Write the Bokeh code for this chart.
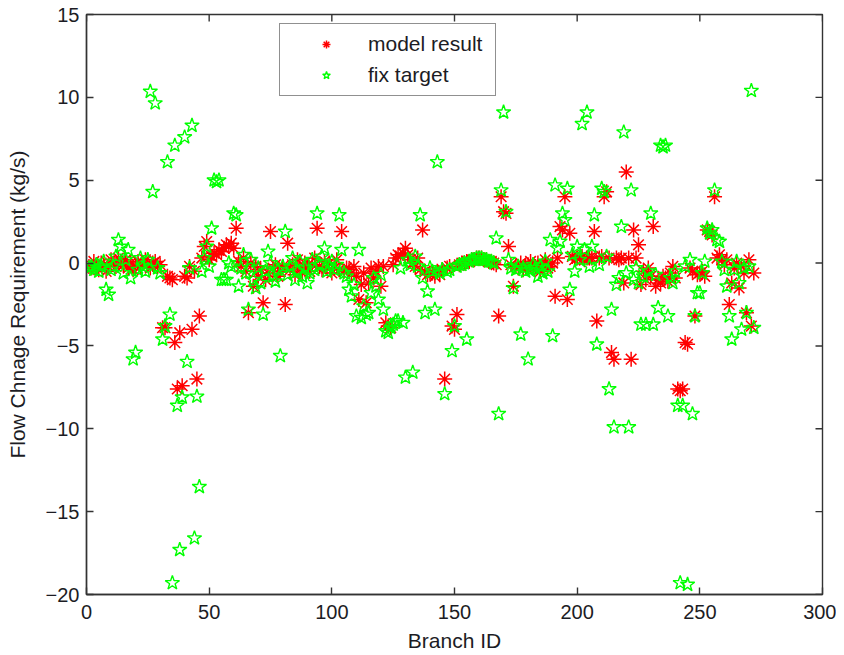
from bokeh.plotting import figure
from bokeh.models import Range1d, FixedTicker, Legend, LegendItem
from bokeh.embed import file_html
from bokeh.resources import INLINE

# Branch-wise flow change requirement (kg/s)
model_result = [
    -0.2, -0.3, 0.1, -0.2, -0.4, 0.0, -0.1, -0.5, -0.2, 0.2,
    0.0, -0.2, 0.3, 0.1, -0.1, 0.2, -0.3, 0.0, -0.4, -0.2,
    0.1, -0.2, 0.0, 0.2, -0.1, -0.3, 0.0, 0.1, -0.2, -0.1,
    -3.9, -3.9, -0.8, -0.9, -1.0, -4.8, -7.6, -4.2, -7.4, -0.8,
    -0.9, -0.2, -4.0, -0.5, -7.0, -3.2, 0.3, 1.0, 1.3, 0.2,
    0.4, 0.6, 0.5, 0.8, 0.7, 0.9, 1.1, 1.0, 1.2, 0.9,
    2.1, 0.1, -0.2, 0.3, -0.5, -3.0, 0.0, -1.4, -0.2, -0.8,
    -0.4, -2.4, -1.0, -0.6, 1.9, -0.3, -0.1, -0.8, -0.5, -0.2,
    -2.5, 1.2, -0.4, -0.1, -0.7, 0.2, -0.3, -0.6, 0.0, -0.2,
    -0.5, -0.1, 0.3, 2.1, -0.2, -0.4, 0.1, -0.3, 0.0, -0.6,
    -0.3, 0.2, -0.4, 1.9, -0.5, -0.3, -0.4, -0.6, -0.2, -0.8,
    -2.2, -1.3, -0.6, -2.4, -1.2, -0.3, -0.9, -0.5, -0.2, -1.4,
    -0.2, -3.6, -3.8, -3.9, -0.1, 0.3, 0.5, 0.4, 0.6, 0.9,
    0.5, 0.2, 0.0, -0.2, 0.3, -0.4, 2.0, -0.5, -0.7, -0.6,
    -0.6, -0.8, -0.5, -0.7, -0.4, -7.0, -0.3, -0.2, -3.8, -4.0,
    -3.1, -0.1, 0.0, 0.0, 0.1, 0.1, 0.2, 0.2, 0.3, 0.3,
    0.3, 0.2, 0.2, 0.1, 0.1, 0.0, -0.1, -3.2, 4.0, 3.1,
    3.0, 1.0, -0.1, -1.4, -0.2, -0.3, 0.0, -0.4, -0.2, -0.1,
    0.1, -0.3, -0.2, 0.0, -0.5, -0.1, 0.2, -0.3, -0.2, 0.0,
    -2.0, 0.3, 2.2, 2.0, 4.0, -2.2, 1.8, 0.4, 0.2, 0.3,
    0.3, 0.4, 0.2, 0.3, 0.3, 0.3, 1.9, -3.5, 0.3, 0.4,
    4.0, 4.3, 0.3, -5.4, -5.8, 0.3, 0.2, 0.3, -1.2, 5.5,
    0.3, -5.8, 2.0, 0.3, 1.1, -1.3, -0.5, -1.0, -0.3, -0.8,
    2.2, -1.4, -1.0, -1.2, -0.8, -0.9, -1.1, -0.6, -0.2, -0.9,
    -7.6, -7.7, -7.6, -4.8, -4.9, -0.3, -0.5, -3.2, -0.7, -0.6,
    -0.5, -0.8, 2.0, 1.9, 1.7, 4.0, 0.3, 0.5, 0.2, -0.1,
    0.2, -2.5, -1.2, -0.3, 0.0, -1.5, -0.2, -0.6, -3.0, 0.2,
    -3.8, -0.6,
]

fix_target = [
    -0.3, -0.2, -0.4, -0.1, -0.5, -0.2, 0.1, -1.6, -1.9, -0.4,
    -0.2, 0.4, 1.4, 1.0, -0.6, 0.2, 0.8, -0.9, -5.8, -5.4,
    -0.4, 0.3, -0.2, -0.5, 0.2, 10.35, 4.3, 9.65, -0.3, -0.6,
    -4.6, -3.8, 6.1, -3.1, -19.3, 7.1, -8.6, -17.3, -8.1, 7.6,
    -5.95, -0.3, 8.3, -16.6, -8.05, -13.5, -0.5, 0.3, 1.0, -0.2,
    2.1, 5.0, 4.9, 5.0, -1.0, -1.0, -1.0, 0.0, -0.2, 3.0,
    2.9, -1.4, -0.3, 0.5, -0.6, -2.8, 0.2, -1.0, -1.5, -0.3,
    -1.2, -3.1, -0.5, 0.7, 0.0, -0.8, -1.1, -0.4, -5.6, -0.2,
    1.9, -0.7, -0.2, 0.3, -1.0, -0.5, 0.1, -0.8, -0.3, -1.2,
    -0.6, 0.2, -0.4, 3.0, -0.1, 0.4, 0.9, -0.5, -0.2, 0.1,
    -0.4, -0.1, 2.9, 0.8, -0.6, -0.8, -1.6, -2.0, -1.3, -3.2,
    0.8, -3.3, -2.6, -3.1, -3.0, -1.8, -0.9, -1.4, -2.2, -0.7,
    -2.8, -4.1, -4.2, -3.9, -3.7, -3.5, -3.5, -0.3, -3.6, -6.9,
    0.2, -0.1, -6.6, 0.4, -0.2, 2.9, -0.9, -3.0, -1.7, -0.3,
    -0.5, -2.8, 6.1, -0.6, -0.4, -7.9, -0.5, -0.4, -5.3, -3.8,
    -0.2, -0.1, -0.1, 0.0, -4.6, 0.1, 0.2, 0.2, 0.3, 0.3,
    0.3, 0.2, 0.2, 0.1, 0.1, 0.0, 1.5, -9.1, 4.4, 9.1,
    3.1, 0.2, -0.3, -1.5, -0.4, -0.2, -4.3, -0.3, -0.5, -5.8,
    -0.4, -0.1, -0.3, -0.8, -0.2, -0.6, 0.1, -0.5, 1.4, -4.4,
    4.7, 0.9, 1.3, 3.0, 2.6, 4.5, -1.6, 0.5, -0.5, 1.0,
    0.2, 8.4, 0.8, 9.1, -0.2, 1.0, 2.9, -4.9, -0.1, 4.5,
    4.3, 0.4, -7.6, -2.8, -9.9, -1.3, -0.9, 2.2, 7.9, -0.6,
    -9.9, 4.4, -1.0, -0.3, -1.2, -3.7, -0.8, -3.7, -0.5, 3.0,
    -3.7, -0.7, -2.7, 7.1, 7.0, 7.1, -3.2, -0.9, -1.2, -0.5,
    -8.6, -19.3, -8.6, -0.2, -19.4, 0.2, -9.1, -3.2, -1.8, -1.8,
    -0.6, 0.1, 2.1, 1.8, 2.0, 4.4, 1.4, 1.3, 0.1, -0.4,
    -1.4, -3.2, -4.6, -0.4, 0.1, -1.2, -4.0, -0.3, -3.0, -0.2,
    10.4, -3.9,
]

branch_model = list(range(1, len(model_result) + 1))
branch_target = list(range(1, len(fix_target) + 1))

x_ticks = [0, 50, 100, 150, 200, 250, 300]
y_ticks = [-20, -15, -10, -5, 0, 5, 10, 15]
X_MIN, X_MAX = 0, 300
Y_MIN, Y_MAX = -20, 15

FONT = "Liberation Sans"
TXT = "#1c1c24"
AX = "#333333"

W, H = 836, 654
BL, BR, BT, BB = 86, 14, 14, 60

p = figure(width=W, height=H, output_backend="svg", toolbar_location=None,
           x_range=Range1d(X_MIN, X_MAX), y_range=Range1d(Y_MIN, Y_MAX),
           min_border_left=BL, min_border_right=BR, min_border_top=BT, min_border_bottom=BB,
           background_fill_color="white", border_fill_color="white")
p.grid.visible = False
p.outline_line_color = AX
p.outline_line_width = 1.4

r1 = p.scatter(branch_model, model_result, marker="asterisk", size=15,
               line_color="#ff0000", line_width=1.5)
r2 = p.scatter(branch_target, fix_target, marker="star", size=15,
               line_color="#00ff00", fill_color=None, line_width=1.4)

# inward ticks on the top and right edges of the box (MATLAB style)
TICK_PX = 7
frame_w = W - BL - BR
frame_h = H - BT - BB
dy = TICK_PX * (Y_MAX - Y_MIN) / frame_h
dx = TICK_PX * (X_MAX - X_MIN) / frame_w
p.segment(x0=x_ticks, y0=[Y_MAX] * len(x_ticks), x1=x_ticks, y1=[Y_MAX - dy] * len(x_ticks),
          line_color=AX, line_width=1.4)
p.segment(x0=[X_MAX] * len(y_ticks), y0=y_ticks, x1=[X_MAX - dx] * len(y_ticks), y1=y_ticks,
          line_color=AX, line_width=1.4)

for ax in (p.xaxis[0], p.yaxis[0]):
    ax.axis_line_color = AX
    ax.axis_line_width = 1.4
    ax.major_tick_in = TICK_PX
    ax.major_tick_out = 0
    ax.minor_tick_in = 0
    ax.minor_tick_out = 0
    ax.major_tick_line_color = AX
    ax.major_tick_line_width = 1.4
    ax.major_label_text_font = FONT
    ax.major_label_text_font_size = "20px"
    ax.major_label_text_color = TXT
    ax.axis_label_text_font = FONT
    ax.axis_label_text_font_size = "21px"
    ax.axis_label_text_font_style = "normal"
    ax.axis_label_text_color = TXT

p.xaxis.ticker = FixedTicker(ticks=x_ticks)
p.yaxis.ticker = FixedTicker(ticks=y_ticks)
p.xaxis.axis_label = "Branch ID"
p.yaxis.axis_label = "Flow Chnage Requirement (kg/s)"
p.xaxis.major_label_standoff = 10
p.xaxis.axis_label_standoff = 7
p.yaxis.major_label_standoff = 7
p.yaxis.axis_label_standoff = 14

legend = Legend(items=[LegendItem(label="model result", renderers=[r1]),
                       LegendItem(label="fix target", renderers=[r2])],
                location=(193, 498))
legend.border_line_color = "#222222"
legend.border_line_width = 1.4
legend.padding = 8
legend.margin = 0
legend.spacing = 7
legend.glyph_width = 76
legend.glyph_height = 20
legend.label_height = 20
legend.label_width = 119
legend.label_standoff = 4
legend.label_text_font = FONT
legend.label_text_font_size = "21px"
legend.label_text_color = TXT
legend.background_fill_color = "white"
legend.background_fill_alpha = 1
p.add_layout(legend, "center")

open("out.html", "w").write(file_html(p, INLINE))
